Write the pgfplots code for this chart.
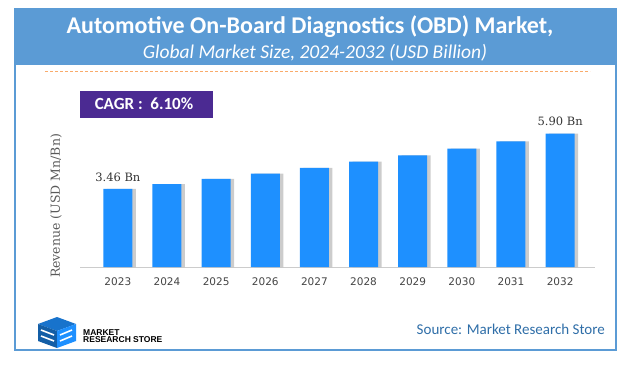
\documentclass[border=0pt]{standalone}
\usepackage{pgfplots}
\pgfplotsset{compat=1.18}
\usepackage{fontspec}
\setmainfont{Carlito}
\newfontfamily\dvs{DejaVu Sans}
\newfontfamily\dvserif{DejaVu Serif}
\newfontfamily\lib{Liberation Sans}
\definecolor{hdr}{HTML}{5B9BD5}
\definecolor{barc}{HTML}{1E90FF}
\definecolor{cagr}{HTML}{4B2A92}
\definecolor{orng}{HTML}{F79646}
\definecolor{src}{HTML}{2F6EA8}
\definecolor{tick}{HTML}{444444}
\pgfplotstableread{
x y
0 3.46
1 3.67
2 3.90
3 4.13
4 4.39
5 4.66
6 4.94
7 5.24
8 5.56
9 5.90
}\datatab
\begin{document}
\begin{tikzpicture}
\path[use as bounding box] (0pt,0pt) rectangle (618pt,376pt);
% header and frame
\fill[hdr] (15pt,367pt) rectangle (616pt,311pt);
\draw[hdr,line width=1.5pt] (15pt,367pt) rectangle (616pt,26pt);
\draw[orng!80,line width=0.8pt,dash pattern=on 3pt off 2pt] (45pt,305pt) -- (590pt,305pt);
\node[text=white,font=\bfseries\fontsize{24}{28}\selectfont] at (310pt,349pt) {Automotive On-Board Diagnostics (OBD) Market,};
\node[text=white,font=\itshape\fontsize{19.5}{22}\selectfont] at (315pt,323pt) {Global Market Size, 2024-2032 (USD Billion)};
% CAGR box
\fill[cagr] (80pt,285pt) rectangle (213pt,258pt);
\node[text=white,font=\bfseries\fontsize{17}{20}\selectfont] at (144pt,272pt) {CAGR :\ \ 6.10\%};
% y label
\node[rotate=90,text=black!65,font=\dvserif\fontsize{12.5}{14}\selectfont] at (56pt,170pt) {Revenue (USD Mn/Bn)};
\begin{axis}[
  at={(80pt,109pt)}, anchor=south west,
  scale only axis, width=515pt, height=158.2pt,
  xmin=-0.77, xmax=9.71, ymin=0, ymax=7,
  axis x line*=bottom, axis y line=none,
  x axis line style={draw=gray!40,line width=0.8pt,-},
  xtick={0,...,9}, xticklabels={2023,2024,2025,2026,2027,2028,2029,2030,2031,2032},
  major tick length=0pt,
  xticklabel style={font=\dvs\fontsize{10.5}{12}\selectfont,text=tick,yshift=-7pt},
  clip=false,
]
\addplot[ybar, bar width=29pt, bar shift=3.5pt, fill=black!40, draw=none, opacity=0.5] table[x=x,y=y] {\datatab};
\addplot[ybar, bar width=29pt, bar shift=0pt, fill=barc, draw=none] table[x=x,y=y] {\datatab};
\addplot[ybar, bar width=29pt, bar shift=0pt, draw=none, fill=none,
  nodes near coords={\pgfmathprintnumber[assume math mode=true,fixed,fixed zerofill,precision=2]{\pgfplotspointmeta} Bn},
  nodes near coords style={font=\dvserif\fontsize{11.5}{14}\selectfont,text=black!80,anchor=south,yshift=4pt}]
  coordinates {(0,3.46) (9,5.90)};
\end{axis}
% logo
\begin{scope}
\fill[barc!80!black] (38pt,52pt) -- (57pt,59pt) -- (76pt,52pt) -- (57pt,45pt) -- cycle;
\fill[barc!65!black] (38pt,52pt) -- (57pt,45pt) -- (57pt,28pt) -- (38pt,35pt) -- cycle;
\fill[barc] (57pt,45pt) -- (76pt,52pt) -- (76pt,35pt) -- (57pt,28pt) -- cycle;
\draw[white,line width=1.6pt] (60pt,41pt) -- (72pt,46pt) (60pt,35pt) -- (72pt,40pt);
\draw[white,line width=1.6pt] (41pt,46pt) -- (54pt,41pt) (41pt,40pt) -- (54pt,35pt);
\end{scope}
\node[anchor=west,font=\lib\bfseries\fontsize{8.5}{8.5}\selectfont,align=left,inner sep=0pt] at (83pt,39.5pt) {MARKET\\[-1.5pt]RESEARCH STORE};
\node[anchor=east,text=src,font=\fontsize{15}{17}\selectfont,inner sep=0pt] at (605pt,47pt) {Source: Market Research Store};
\end{tikzpicture}
\end{document}
